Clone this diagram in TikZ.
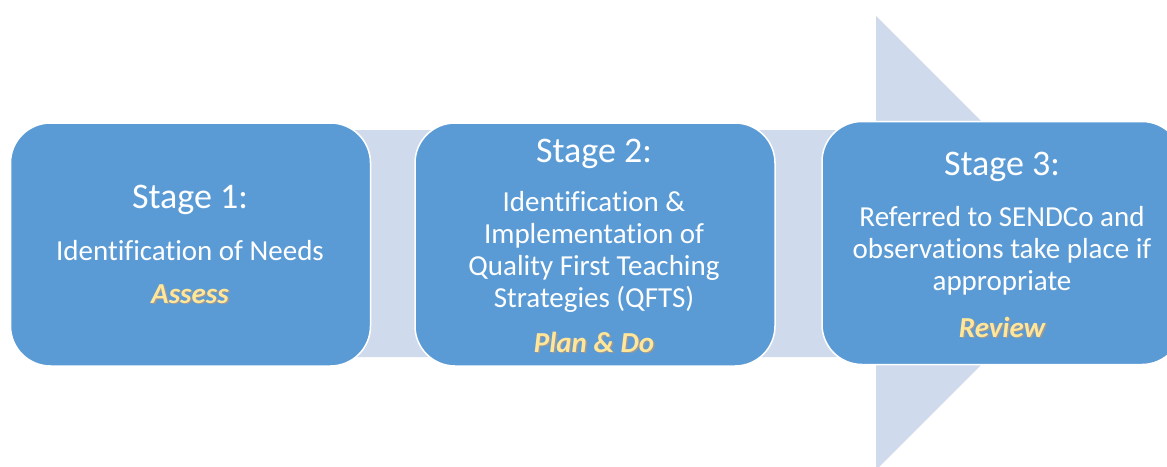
\documentclass[tikz,border=0pt]{standalone}
\usepackage{fontspec}
\setmainfont{Carlito}[Ligatures=NoCommon]
\usetikzlibrary{positioning}

\definecolor{stageblue}{HTML}{5B9BD5}
\definecolor{shaftblue}{HTML}{CFDBEC}
\definecolor{tagyellow}{HTML}{FFE699}

\tikzset{
  stagebox/.style={rectangle,rounded corners=40pt,fill=stageblue,draw=white,
    line width=1.5pt,minimum width=360pt,minimum height=243pt,inner sep=0pt},
  stagetitle/.style={text=white,font=\fontsize{36}{40}\selectfont,anchor=base,inner sep=0pt},
  stagebody/.style={text=white,font=\fontsize{29}{32}\selectfont,align=center,anchor=base,inner sep=0pt},
  stagetag/.style={text=tagyellow,font=\fontsize{29}{32}\selectfont\bfseries\itshape,anchor=base,inner sep=0pt},
  tagshadow/.style={text=black!40,font=\fontsize{29}{32}\selectfont\bfseries\itshape,anchor=base,inner sep=0pt}
}

\begin{document}
\begin{tikzpicture}[x=1pt,y=-1pt]
    \useasboundingbox (0,0) rectangle (1167,466);

    % the wide arrow behind the three stages
    \fill[shaftblue] (60,130) -- (876,130) -- (876,16) -- (1103,243)
      -- (876,470) -- (876,357) -- (60,357) -- cycle;

    \node[stagebox] (s1) at (190.5,244.5) {};
    \node[stagebox] (s2) at (595,244.5) {};
    \node[stagebox] (s3) at (1002,243) {};

    % stage 1 (body nodes sit on the baseline of their last line)
    \node[stagetitle] (t1) at (190,208) {Stage 1:};
    \node[stagebody] (b1) at (190,260) {Identification of Needs};
    \node[tagshadow] at (191.5,304.5) {Assess};
    \node[stagetag] (a1) at (190,303) {Assess};

    % stage 2
    \node[stagetitle] (t2) at (594,162) {Stage 2:};
    \node[stagebody] (b2) at (594,307) {Identification \&\\Implementation of\\
      Quality First Teaching\\Strategies (QFTS)};
    \node[tagshadow] at (595.5,353.5) {Plan \& Do};
    \node[stagetag] (a2) at (594,352) {Plan \& Do};

    % stage 3
    \node[stagetitle] (t3) at (1002,175) {Stage 3:};
    \node[stagebody] (b3) at (1002,290) {Referred to SENDCo and\\
      observations take place if\\appropriate};
    \node[tagshadow] at (1003.5,338.5) {Review};
    \node[stagetag] (a3) at (1002,337) {Review};
\end{tikzpicture}
\end{document}
